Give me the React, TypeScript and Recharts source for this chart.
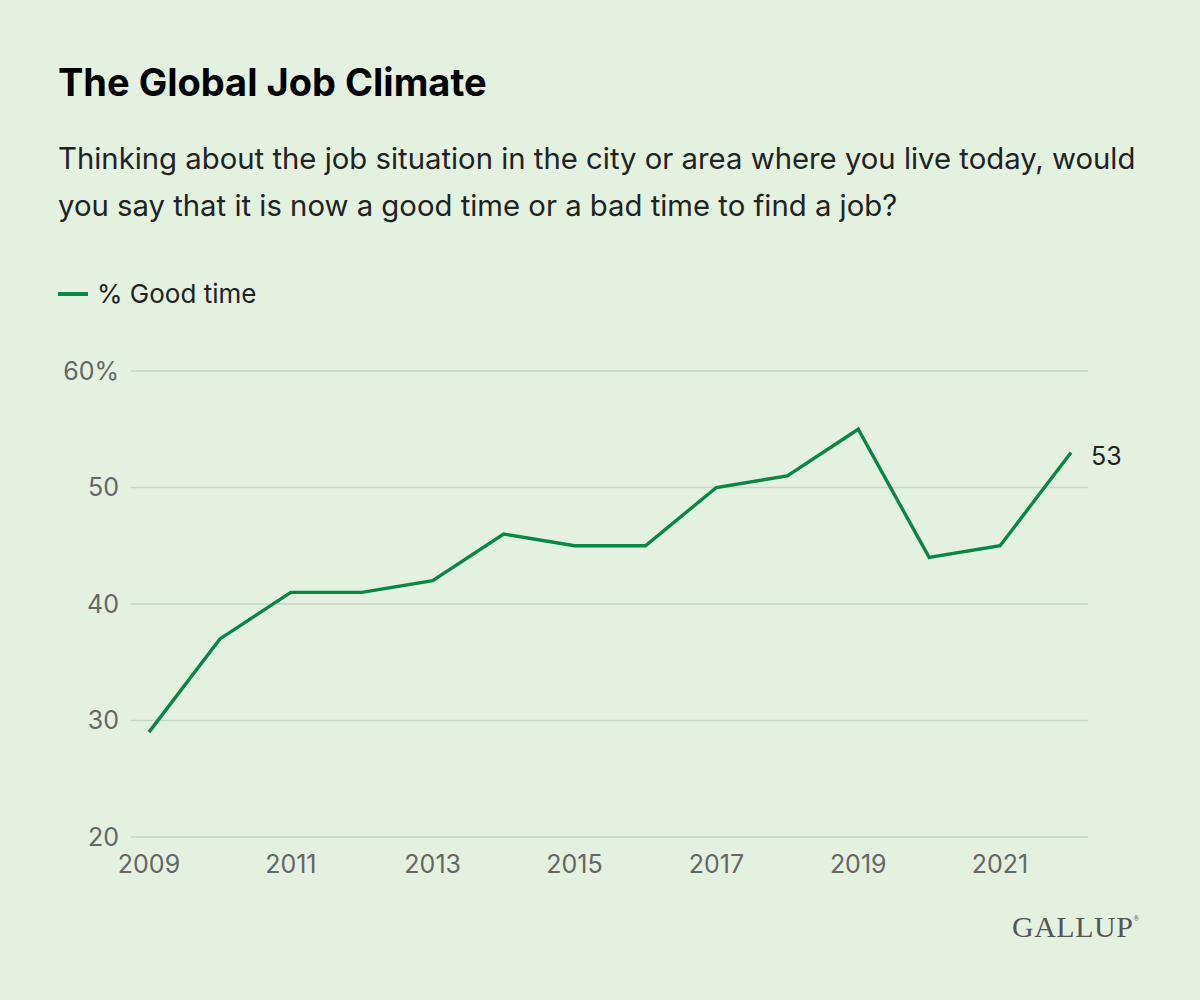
import { LineChart, Line, XAxis, YAxis, CartesianGrid } from "recharts";

const years = [2009, 2010, 2011, 2012, 2013, 2014, 2015, 2016, 2017, 2018, 2019, 2020, 2021, 2022];
const goodTime = [29, 37, 41, 41, 42, 46, 45, 45, 50, 51, 55, 44, 45, 53];
const xTicks = [2009, 2011, 2013, 2015, 2017, 2019, 2021];
const yTicks = [20, 30, 40, 50, 60];

const data = years.map((year, i) => ({ year, good: goodTime[i] }));

const GREEN = "#0b8646";
const FONT = "Inter, Roboto, 'Noto Sans', sans-serif";

const EndLabel = (props: any) => {
  const { x, y, index } = props;
  if (index !== data.length - 1) return null;
  return (
    <text x={x + 20} y={y + 4} dy="0.35em" fontSize={25} fill="#222" fontFamily={FONT}>
      {goodTime[index]}
    </text>
  );
};

const App = () => (
  <div
    style={{
      position: "absolute",
      top: 0,
      left: 0,
      width: 1200,
      height: 1000,
      background: "#e4f1e1",
      fontFamily: FONT,
      color: "#111",
      overflow: "hidden",
    }}
  >
    <div style={{ position: "absolute", left: 58, top: 59, fontSize: 38, fontWeight: 700, color: "#000" }}>
      The Global Job Climate
    </div>
    <div
      style={{
        position: "absolute",
        left: 58,
        top: 135,
        fontSize: 29.3,
        lineHeight: "47px",
        color: "#222",
        whiteSpace: "nowrap",
      }}
    >
      Thinking about the job situation in the city or area where you live today, would
      <br />
      you say that it is now a good time or a bad time to find a job?
    </div>
    <div style={{ position: "absolute", left: 58, top: 278, display: "flex", alignItems: "center", fontSize: 26, color: "#222" }}>
      <span style={{ display: "inline-block", width: 30, height: 4, background: GREEN, marginRight: 9 }} />
      % Good time
    </div>
    <div style={{ position: "absolute", left: 0, top: 340 }}>
      <LineChart width={1200} height={560} data={data} margin={{ top: 31, right: 112, bottom: 23, left: 51 }}>
        <CartesianGrid vertical={false} stroke="#c6d6c3" strokeWidth={1.5} />
        <XAxis
          dataKey="year"
          type="number"
          domain={[2009, 2022]}
          ticks={xTicks}
          padding={{ left: 18, right: 17 }}
          axisLine={false}
          tickLine={false}
          tickSize={0}
          tickMargin={18}
          height={40}
          tick={{ fontSize: 25, fill: "#666", fontFamily: FONT }}
        />
        <YAxis
          type="number"
          domain={[20, 60]}
          ticks={yTicks}
          width={80}
          axisLine={false}
          tickLine={false}
          tickSize={0}
          tickMargin={12}
          tickFormatter={(v: number) => (v === 60 ? "60%" : String(v))}
          tick={{ fontSize: 25, fill: "#666", fontFamily: FONT }}
        />
        <Line
          dataKey="good"
          stroke={GREEN}
          strokeWidth={3.4}
          dot={false}
          isAnimationActive={false}
          label={<EndLabel />}
        />
      </LineChart>
    </div>
    <div
      style={{
        position: "absolute",
        left: 1012,
        top: 910,
        fontFamily: "'Liberation Serif', 'DejaVu Serif', serif",
        fontSize: 30,
        letterSpacing: 0.5,
        color: "#555",
      }}
    >
      GALLUP<span style={{ fontSize: 8, verticalAlign: "top", position: "relative", top: 4 }}>®</span>
    </div>
  </div>
);

export default App;
